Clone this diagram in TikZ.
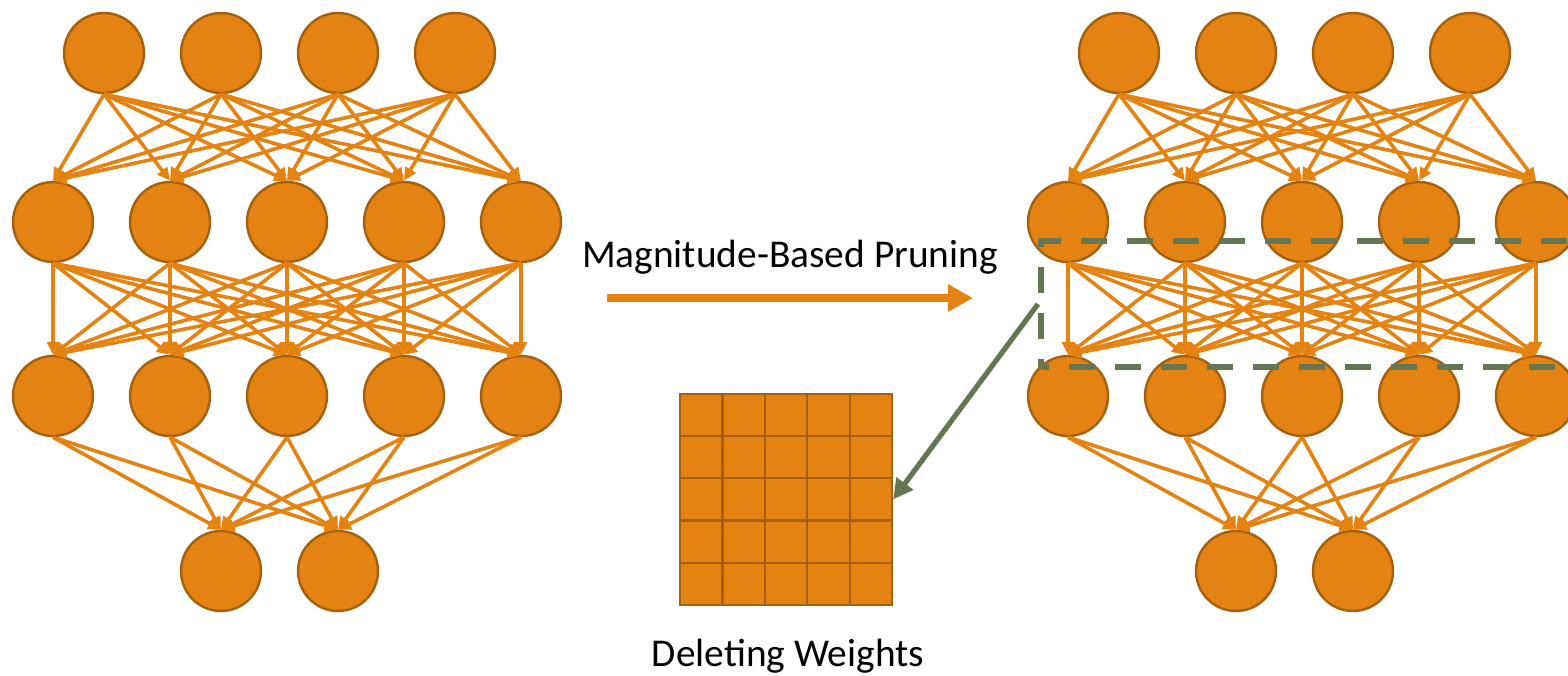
\documentclass[tikz,border=0pt]{standalone}
\usepackage{fontspec}
\setmainfont{Carlito}
\usetikzlibrary{arrows.meta}

\definecolor{nnorange}{HTML}{E48312}
\definecolor{nnborder}{HTML}{A5600E}
\definecolor{selgreen}{HTML}{667552}

\begin{document}
\begin{tikzpicture}[
  x=0.5pt, y=-0.5pt,
  font=\fontsize{19.7}{24}\selectfont,
  neuron/.style={
    circle,
    draw=nnborder,
    line width=1.2pt,
    fill=nnorange,
    minimum size=40pt,
    inner sep=0pt
  },
  weight/.style={
    rectangle,
    draw=nnborder,
    line width=1.1pt,
    fill=nnorange,
    minimum size=21.2pt,
    inner sep=0pt
  },
  selbox/.style={
    rectangle,
    draw=selgreen,
    line width=3pt,
    dash pattern=on 13pt off 10pt,
    dash phase=9pt,
    minimum width=279.5pt,
    minimum height=63pt,
    inner sep=0pt
  },
  link/.style={-{Triangle[length=6.5pt,width=6pt]}, line width=1.8pt, draw=nnorange},
  prune/.style={-{Triangle[length=12.5pt,width=13pt]}, line width=4.3pt, draw=nnorange},
  selarrow/.style={-{Triangle[length=10pt,width=10pt]}, line width=2.6pt, draw=selgreen}
]

\useasboundingbox (0,0) rectangle (1568,675);

% the network before and after pruning
\foreach \net/\dx in {L/0,R/1015} {
  \foreach \i in {1,...,4}
    \node[neuron] (\net-a\i) at ({\dx+104+117*(\i-1)},53) {};
  \foreach \i in {1,...,5} {
    \node[neuron] (\net-b\i) at ({\dx+53+117*(\i-1)},222) {};
    \node[neuron] (\net-c\i) at ({\dx+53+117*(\i-1)},396) {};
  }
  \foreach \i in {1,2}
    \node[neuron] (\net-d\i) at ({\dx+221+117*(\i-1)},571) {};

  \foreach \i in {1,...,4}
    \foreach \j in {1,...,5}
      \draw[link] (\net-a\i.south) -- (\net-b\j.north);
  \foreach \i in {1,...,5}
    \foreach \j in {1,...,5}
      \draw[link] (\net-b\i.south) -- (\net-c\j.north);
  \foreach \i in {1,...,5}
    \foreach \j in {1,2}
      \draw[link] (\net-c\i.south) -- (\net-d\j.north);
}

% weight matrix
\foreach \i in {1,...,5}
  \foreach \j in {1,...,5}
    \node[weight] (w\j\i) at ({701.2+42.4*(\i-1)},{415.1+42.2*(\j-1)}) {};

\node (prunelabel) at (790,257) {Magnitude-Based Pruning};
\coordinate (pruneA) at (607,298);
\coordinate (pruneB) at (973,298);
\draw[prune] (pruneA) -- (pruneB);

\node (dellabel) at (788,656) {Deleting Weights};

\node[selbox] (sel) at (1320.5,304) {};
\draw[selarrow] (sel.west) -- (w35.east);

\end{tikzpicture}
\end{document}
